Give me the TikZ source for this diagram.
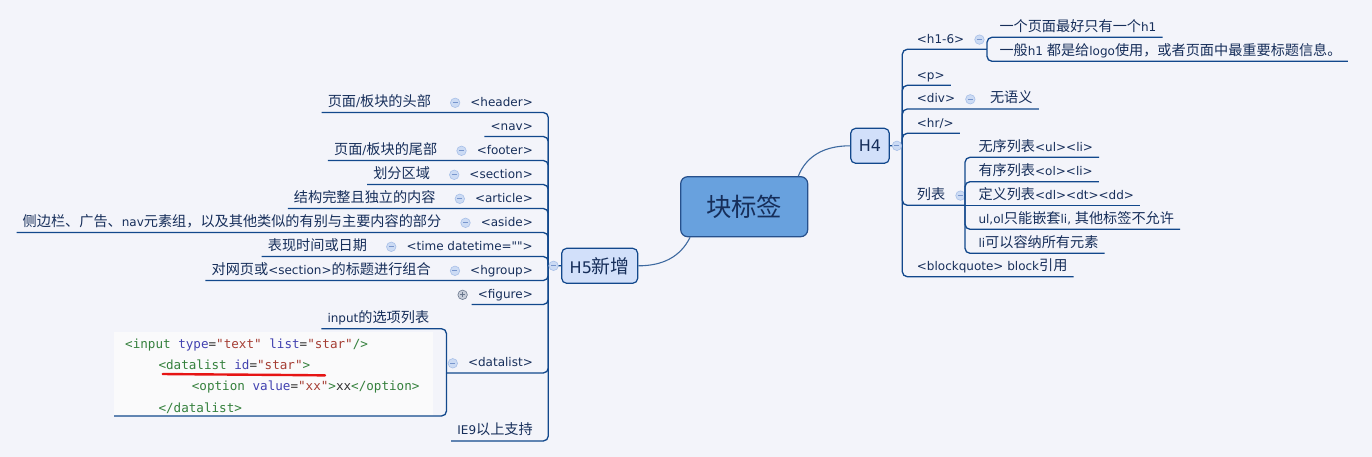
\documentclass[tikz,border=0pt]{standalone}
\usepackage{fontspec}
\setmainfont{DejaVu Sans}[Ligatures=TeXOff]
\newfontfamily\zhfont{Noto Sans CJK SC}[Scale=1.18,Ligatures=TeXOff]
\newfontfamily\codefont{DejaVu Sans Mono}[Ligatures=TeXOff]
\usetikzlibrary{positioning}

\definecolor{pagebg}{RGB}{243,244,250}
\definecolor{txt}{RGB}{22,46,90}
\definecolor{branch}{RGB}{18,72,140}
\definecolor{linkc}{RGB}{62,106,160}
\definecolor{rootfill}{RGB}{104,161,222}
\definecolor{rootdraw}{RGB}{38,80,140}
\definecolor{subfill}{RGB}{210,224,250}
\definecolor{iconfill}{RGB}{204,219,244}
\definecolor{icondraw}{RGB}{168,192,232}
\definecolor{iconbar}{RGB}{120,150,205}
\definecolor{plusfill}{RGB}{200,206,218}
\definecolor{plusdraw}{RGB}{105,118,140}
\definecolor{codebg}{RGB}{250,250,251}
\definecolor{codetagc}{RGB}{52,128,60}
\definecolor{codeattrc}{RGB}{66,66,176}
\definecolor{codevalc}{RGB}{165,62,52}
\definecolor{codetxt}{RGB}{50,50,50}
\definecolor{markred}{RGB}{230,20,20}

\newcommand\zh[1]{{\zhfont #1}}
\newcommand\codetag[1]{\textcolor{codetagc}{#1}}
\newcommand\codeattr[1]{\textcolor{codeattrc}{#1}}
\newcommand\codeval[1]{\textcolor{codevalc}{#1}}

\begin{document}
\begin{tikzpicture}[x=1pt,y=-1pt,
	font=\fontsize{12pt}{14pt}\selectfont,
	lbl/.style={inner xsep=6pt,inner ysep=3pt,text height=10pt,text depth=3pt,text=txt},
	br/.style={draw=branch,line width=1.3pt,rounded corners=5pt},
	link/.style={draw=linkc,line width=1.1pt},
	fold/.style={circle,minimum size=9.5pt,inner sep=0pt,fill=iconfill,draw=icondraw,line width=0.6pt,
		path picture={\draw[iconbar,line width=0.9pt] ([xshift=-2.5pt]path picture bounding box.center)--([xshift=2.5pt]path picture bounding box.center);}},
	unfold/.style={circle,minimum size=9.5pt,inner sep=0pt,fill=plusfill,draw=plusdraw,line width=0.6pt,
		path picture={\draw[plusdraw,line width=0.9pt] ([xshift=-2.5pt]path picture bounding box.center)--([xshift=2.5pt]path picture bounding box.center) ([yshift=-2.5pt]path picture bounding box.center)--([yshift=2.5pt]path picture bounding box.center);}},
	topic/.style={rounded corners=5pt,draw=branch,line width=1.2pt,fill=subfill,text=txt,inner sep=0pt,font=\fontsize{16pt}{18pt}\selectfont},
	codeline/.style={anchor=base west,inner sep=0pt,text=codetxt,font=\codefont\fontsize{12.6pt}{14pt}\selectfont}]
	\useasboundingbox (0,0) rectangle (1372,457);
	\fill[pagebg] (0,0) rectangle (1372,457);
	
	%central topic and main topics
	\node[topic,fill=rootfill,draw=rootdraw,rounded corners=7pt,minimum width=127pt,minimum height=60pt,font=\fontsize{21.5pt}{24pt}\selectfont] (root) at (744.2,206.7) {\zh{块标签}};
	\node[topic,minimum width=38.6pt,minimum height=35pt] (h4) at (870,145.8) {H4};
	\node[topic,minimum width=76pt,minimum height=35pt] (h5) at (599.7,265.8) {H5\zh{新增}};
	\coordinate (h4j) at (902.3,146);
	\coordinate (h5j) at (548.3,266);
	
	%H5 branch
	\node[lbl,anchor=south east] (header) at (539,112.5) {<header>};
	\node[fold,left=4pt of header] (headerF) {};
	\node[lbl,left=13pt of headerF] (headerN) {\zh{页面}/\zh{板块的头部}};
	\node[lbl,anchor=south east] (nav) at (539,136.5) {<nav>};
	\node[lbl,anchor=south east] (footer) at (539,160.5) {<footer>};
	\node[fold,left=4pt of footer] (footerF) {};
	\node[lbl,left=13pt of footerF] (footerN) {\zh{页面}/\zh{板块的尾部}};
	\node[lbl,anchor=south east] (section) at (539,184.5) {<section>};
	\node[fold,left=4pt of section] (sectionF) {};
	\node[lbl,left=13pt of sectionF] (sectionN) {\zh{划分区域}};
	\node[lbl,anchor=south east] (article) at (539,208.5) {<article>};
	\node[fold,left=4pt of article] (articleF) {};
	\node[lbl,left=13pt of articleF] (articleN) {\zh{结构完整且独立的内容}};
	\node[lbl,anchor=south east] (aside) at (539,232.5) {<aside>};
	\node[fold,left=4pt of aside] (asideF) {};
	\node[lbl,left=13pt of asideF] (asideN) {\zh{侧边栏、广告、}nav\zh{元素组，以及其他类似的有别与主要内容的部分}};
	\node[lbl,anchor=south east] (time) at (539,256.5) {<time datetime="">};
	\node[fold,left=4pt of time] (timeF) {};
	\node[lbl,left=13pt of timeF] (timeN) {\zh{表现时间或日期}};
	\node[lbl,anchor=south east] (hgroup) at (539,280.5) {<hgroup>};
	\node[fold,left=4pt of hgroup] (hgroupF) {};
	\node[lbl,left=13pt of hgroupF] (hgroupN) {\zh{对网页或}<section>\zh{的标题进行组合}};
	\node[lbl,anchor=south east] (figure) at (539,304.5) {<figure>};
	\node[unfold,left=4pt of figure] (figureF) {};
	\node[lbl,anchor=south east] (datalist) at (539,373) {<datalist>};
	\node[fold,left=4pt of datalist] (datalistF) {};
	\coordinate (dlj) at (446.5,373);
	\node[lbl,anchor=south west] (input) at (321.3,328.7) {input\zh{的选项列表}};
	\node[lbl,anchor=south east] (ie9) at (539,441) {IE9\zh{以上支持}};
	
	%code picture under datalist
	\node[fill=codebg,anchor=south west,minimum width=319pt,minimum height=84pt,inner sep=0pt] (code) at (114,416) {};
	\node[codeline] (code1) at (125,348.3) {\codetag{<input} \codeattr{type}=\codeval{"text"} \codeattr{list}=\codeval{"star"}\codetag{/>}};
	\node[codeline] (code2) at (158.3,369.3) {\codetag{<datalist} \codeattr{id}=\codeval{"star"}\codetag{>}};
	\node[codeline] (code3) at (191.7,390.7) {\codetag{<option} \codeattr{value}=\codeval{"xx"}\codetag{>}xx\codetag{</option>}};
	\node[codeline] (code4) at (158.3,412.3) {\codetag{</datalist>}};
	\draw[markred,line width=2.4pt,line cap=round] (162.7,374) .. controls (220,374.6) and (280,374.8) .. (325,375.4);	%red mark
	
	%H4 branch
	\node[lbl,anchor=south west] (h16) at (910.7,49.3) {<h1-6>};
	\node[fold,right=4pt of h16] (h16F) {};
	\coordinate (h16j) at (987,49.3);
	\node[lbl,anchor=south west] (one) at (993.3,37.3) {\zh{一个页面最好只有一个}h1};
	\node[lbl,anchor=south west] (logo) at (993.3,61.3) {\zh{一般}h1 \zh{都是给}logo\zh{使用，或者页面中最重要标题信息。}};
	\node[lbl,anchor=south west] (p) at (910.7,85.3) {<p>};
	\node[lbl,anchor=south west] (div) at (910.7,109) {<div>};
	\node[fold,right=4pt of div] (divF) {};
	\node[lbl,right=8.5pt of divF] (divN) {\zh{无语义}};
	\node[lbl,anchor=south west] (hr) at (910.7,133.3) {<hr/>};
	\node[lbl,anchor=south west] (list) at (910.7,205.3) {\zh{列表}};
	\node[fold,right=4pt of list] (listF) {};
	\coordinate (listj) at (965,205.3);
	\node[lbl,anchor=south west] (ul) at (972.3,157.3) {\zh{无序列表}<ul><li>};
	\node[lbl,anchor=south west] (ol) at (972.3,181.7) {\zh{有序列表}<ol><li>};
	\node[lbl,anchor=south west] (dl) at (972.3,205.3) {\zh{定义列表}<dl><dt><dd>};
	\node[lbl,anchor=south west] (nest) at (972.3,229.3) {ul,ol\zh{只能嵌套}li, \zh{其他标签不允许}};
	\node[lbl,anchor=south west] (any) at (972.3,253.3) {li\zh{可以容纳所有元素}};
	\node[lbl,anchor=south west] (quote) at (910.7,276.7) {<blockquote> block\zh{引用}};
	
	%branch lines, left
	\draw[br] (h5.west) -- (h5j);
	\draw[br] (h5j) |- (headerN.south west);
	\draw[br] (h5j) |- (nav.south west);
	\draw[br] (h5j) |- (footerN.south west);
	\draw[br] (h5j) |- (sectionN.south west);
	\draw[br] (h5j) |- (articleN.south west);
	\draw[br] (h5j) |- (asideN.south west);
	\draw[br] (h5j) |- (timeN.south west);
	\draw[br] (h5j) |- (hgroupN.south west);
	\draw[br] (h5j) |- (figure.south west);
	\draw[br] (h5j) |- (dlj);
	\draw[br] (dlj) |- (input.south west);
	\draw[br] (dlj) |- (code.south west);
	\draw[br] (h5j) |- (ie9.south west);
	
	%branch lines, right
	\draw[br] (h4.east) -- (h4j);
	\draw[br] (h4j) |- (h16j);
	\draw[br] (h16j) |- (one.south east);
	\draw[br] (h16j) |- (logo.south east);
	\draw[br] (h4j) |- (p.south east);
	\draw[br] (h4j) |- (divN.south east);
	\draw[br] (h4j) |- (hr.south east);
	\draw[br] (h4j) |- (listj);
	\draw[br] (listj) |- (ul.south east);
	\draw[br] (listj) |- (ol.south east);
	\draw[br] (listj) -- (dl.south east);
	\draw[br] (listj) |- (nest.south east);
	\draw[br] (listj) |- (any.south east);
	\draw[br] (h4j) |- (quote.south east);
	
	%curved links from the central topic
	\draw[link] ([xshift=10pt]root.south west) .. controls +(-10,20) and +(24,0) .. (h5.east);
	\draw[link] ([xshift=-10pt]root.north east) .. controls +(8,-20) and +(-26,0) .. (h4.west);
	
	%fold marks on the main topics
	\node[fold,right=2pt of h4] (h4F) {};
	\node[fold,left=2.5pt of h5] (h5F) {};
\end{tikzpicture}
\end{document}
